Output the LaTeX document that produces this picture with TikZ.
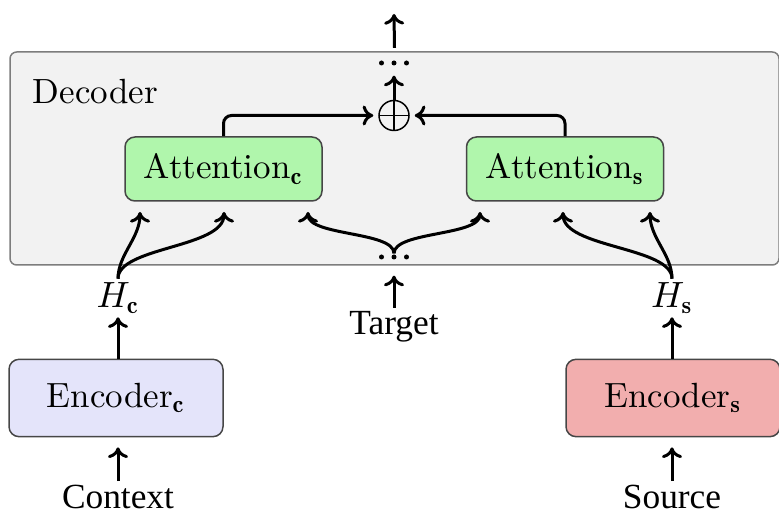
\documentclass[tikz,border=0pt]{standalone}
\usetikzlibrary{arrows.meta}
\usepackage{fontspec}
\newfontfamily\tms{Liberation Serif}
\definecolor{decofill}{RGB}{242,242,242}
\definecolor{decoline}{RGB}{125,125,125}
\definecolor{attnfill}{RGB}{176,246,172}
\definecolor{encfillc}{RGB}{228,228,250}
\definecolor{encfills}{RGB}{242,174,174}
\definecolor{boxline}{RGB}{70,70,70}
\begin{document}
\begin{tikzpicture}[x=0.3pt,y=-0.3pt,
  font=\fontsize{10.5}{12.5}\selectfont,
  arr/.style={-{To[length=3.2pt,width=6pt]}, line width=0.9pt},
  deco/.style={draw=decoline, fill=decofill, line width=0.45pt, rounded corners=2pt,
    minimum width=230.7pt, minimum height=63.9pt, inner sep=0pt},
  box/.style={draw=boxline, line width=0.45pt, rounded corners=3pt, inner sep=0pt},
  attn/.style={box, fill=attnfill, minimum width=59.1pt, minimum height=19.2pt},
  enc/.style={box, minimum width=64.2pt, minimum height=23.2pt},
  lbl/.style={inner sep=1pt},
  word/.style={inner sep=1pt, font=\tms\fontsize{10.6}{12.5}\selectfont},
  plusnode/.style={circle, draw, line width=0.45pt, minimum size=9pt, inner sep=0pt,
    path picture={\draw[line width=0.45pt]
      (path picture bounding box.north) -- (path picture bounding box.south)
      (path picture bounding box.west) -- (path picture bounding box.east);}},
  dotsnode/.style={minimum width=9pt, minimum height=1.8pt, inner sep=0pt,
    path picture={\foreach \dx in {-3.75pt,0pt,3.75pt}
      \fill ([xshift=\dx]path picture bounding box.center) circle (0.75pt);}}
]
\useasboundingbox (0,0) rectangle (779,517);

% decoder block
\node[deco] (dec) at (394.5,158.5) {};
\node[anchor=west] (declabel) at (21,92) {Decoder};
\node[attn] (attc) at (223.5,169) {Attention$_{\mathbf{c}}$};
\node[attn] (atts) at (565,169) {Attention$_{\mathbf{s}}$};
\node[plusnode] (plus) at (394,115.5) {};
\node[dotsnode] (topdots) at (394,63) {};
\node[dotsnode] (tgtdots) at (394,257) {};

% encoders
\node[enc, fill=encfillc] (encc) at (116,398) {Encoder$_{\mathbf{c}}$};
\node[enc, fill=encfills] (encs) at (673,398) {Encoder$_{\mathbf{s}}$};

% inputs and encoder states
\node[word] (ctx) at (118,497) {Context};
\node[word] (src) at (672,497) {Source};
\node[word] (tgt) at (394,327) {Target};
\node[lbl] (hc) at (118,298) {$H_{\mathbf{c}}$};
\node[lbl] (hs) at (672,298) {$H_{\mathbf{s}}$};

% arrow tips under the attention blocks
\coordinate (c1) at (140,212);
\coordinate (c2) at (224,212);
\coordinate (t1) at (308,212);
\coordinate (t2) at (480,212);
\coordinate (s1) at (563,212);
\coordinate (s2) at (650,212);
\coordinate (out) at (394,14);

% output
\draw[arr] ([yshift=1pt]dec.north) -- (out);
\draw[arr, shorten >=2.7pt] (plus.north) -- (topdots.south);
\draw[arr, rounded corners=2.4pt, shorten >=1.5pt] (attc.north) |- (plus.west);
\draw[arr, rounded corners=2.4pt, shorten >=1.5pt] (atts.north) |- (plus.east);

% inputs into the encoders
\draw[arr, shorten >=3pt] (ctx.north) -- (ctx.north |- encc.south);
\draw[arr, shorten >=3pt] (src.north) -- (src.north |- encs.south);
\draw[arr] (hc.south |- encc.north) -- (hc.south);
\draw[arr] (hs.south |- encs.north) -- (hs.south);
\draw[arr, shorten >=4.5pt] (tgt.north) -- (tgtdots.south);

% branches into the attention blocks
\draw[arr] (hc.north) .. controls +(0,-24) and +(0,26) .. (c1);
\draw[arr] (hc.north) .. controls +(0,-32) and +(0,36) .. (c2);
\draw[arr] (tgtdots.north) .. controls +(0,-22) and +(0,24) .. (t1);
\draw[arr] (tgtdots.north) .. controls +(0,-22) and +(0,24) .. (t2);
\draw[arr] (hs.north) .. controls +(0,-32) and +(0,36) .. (s1);
\draw[arr] (hs.north) .. controls +(0,-24) and +(0,26) .. (s2);
\end{tikzpicture}
\end{document}
